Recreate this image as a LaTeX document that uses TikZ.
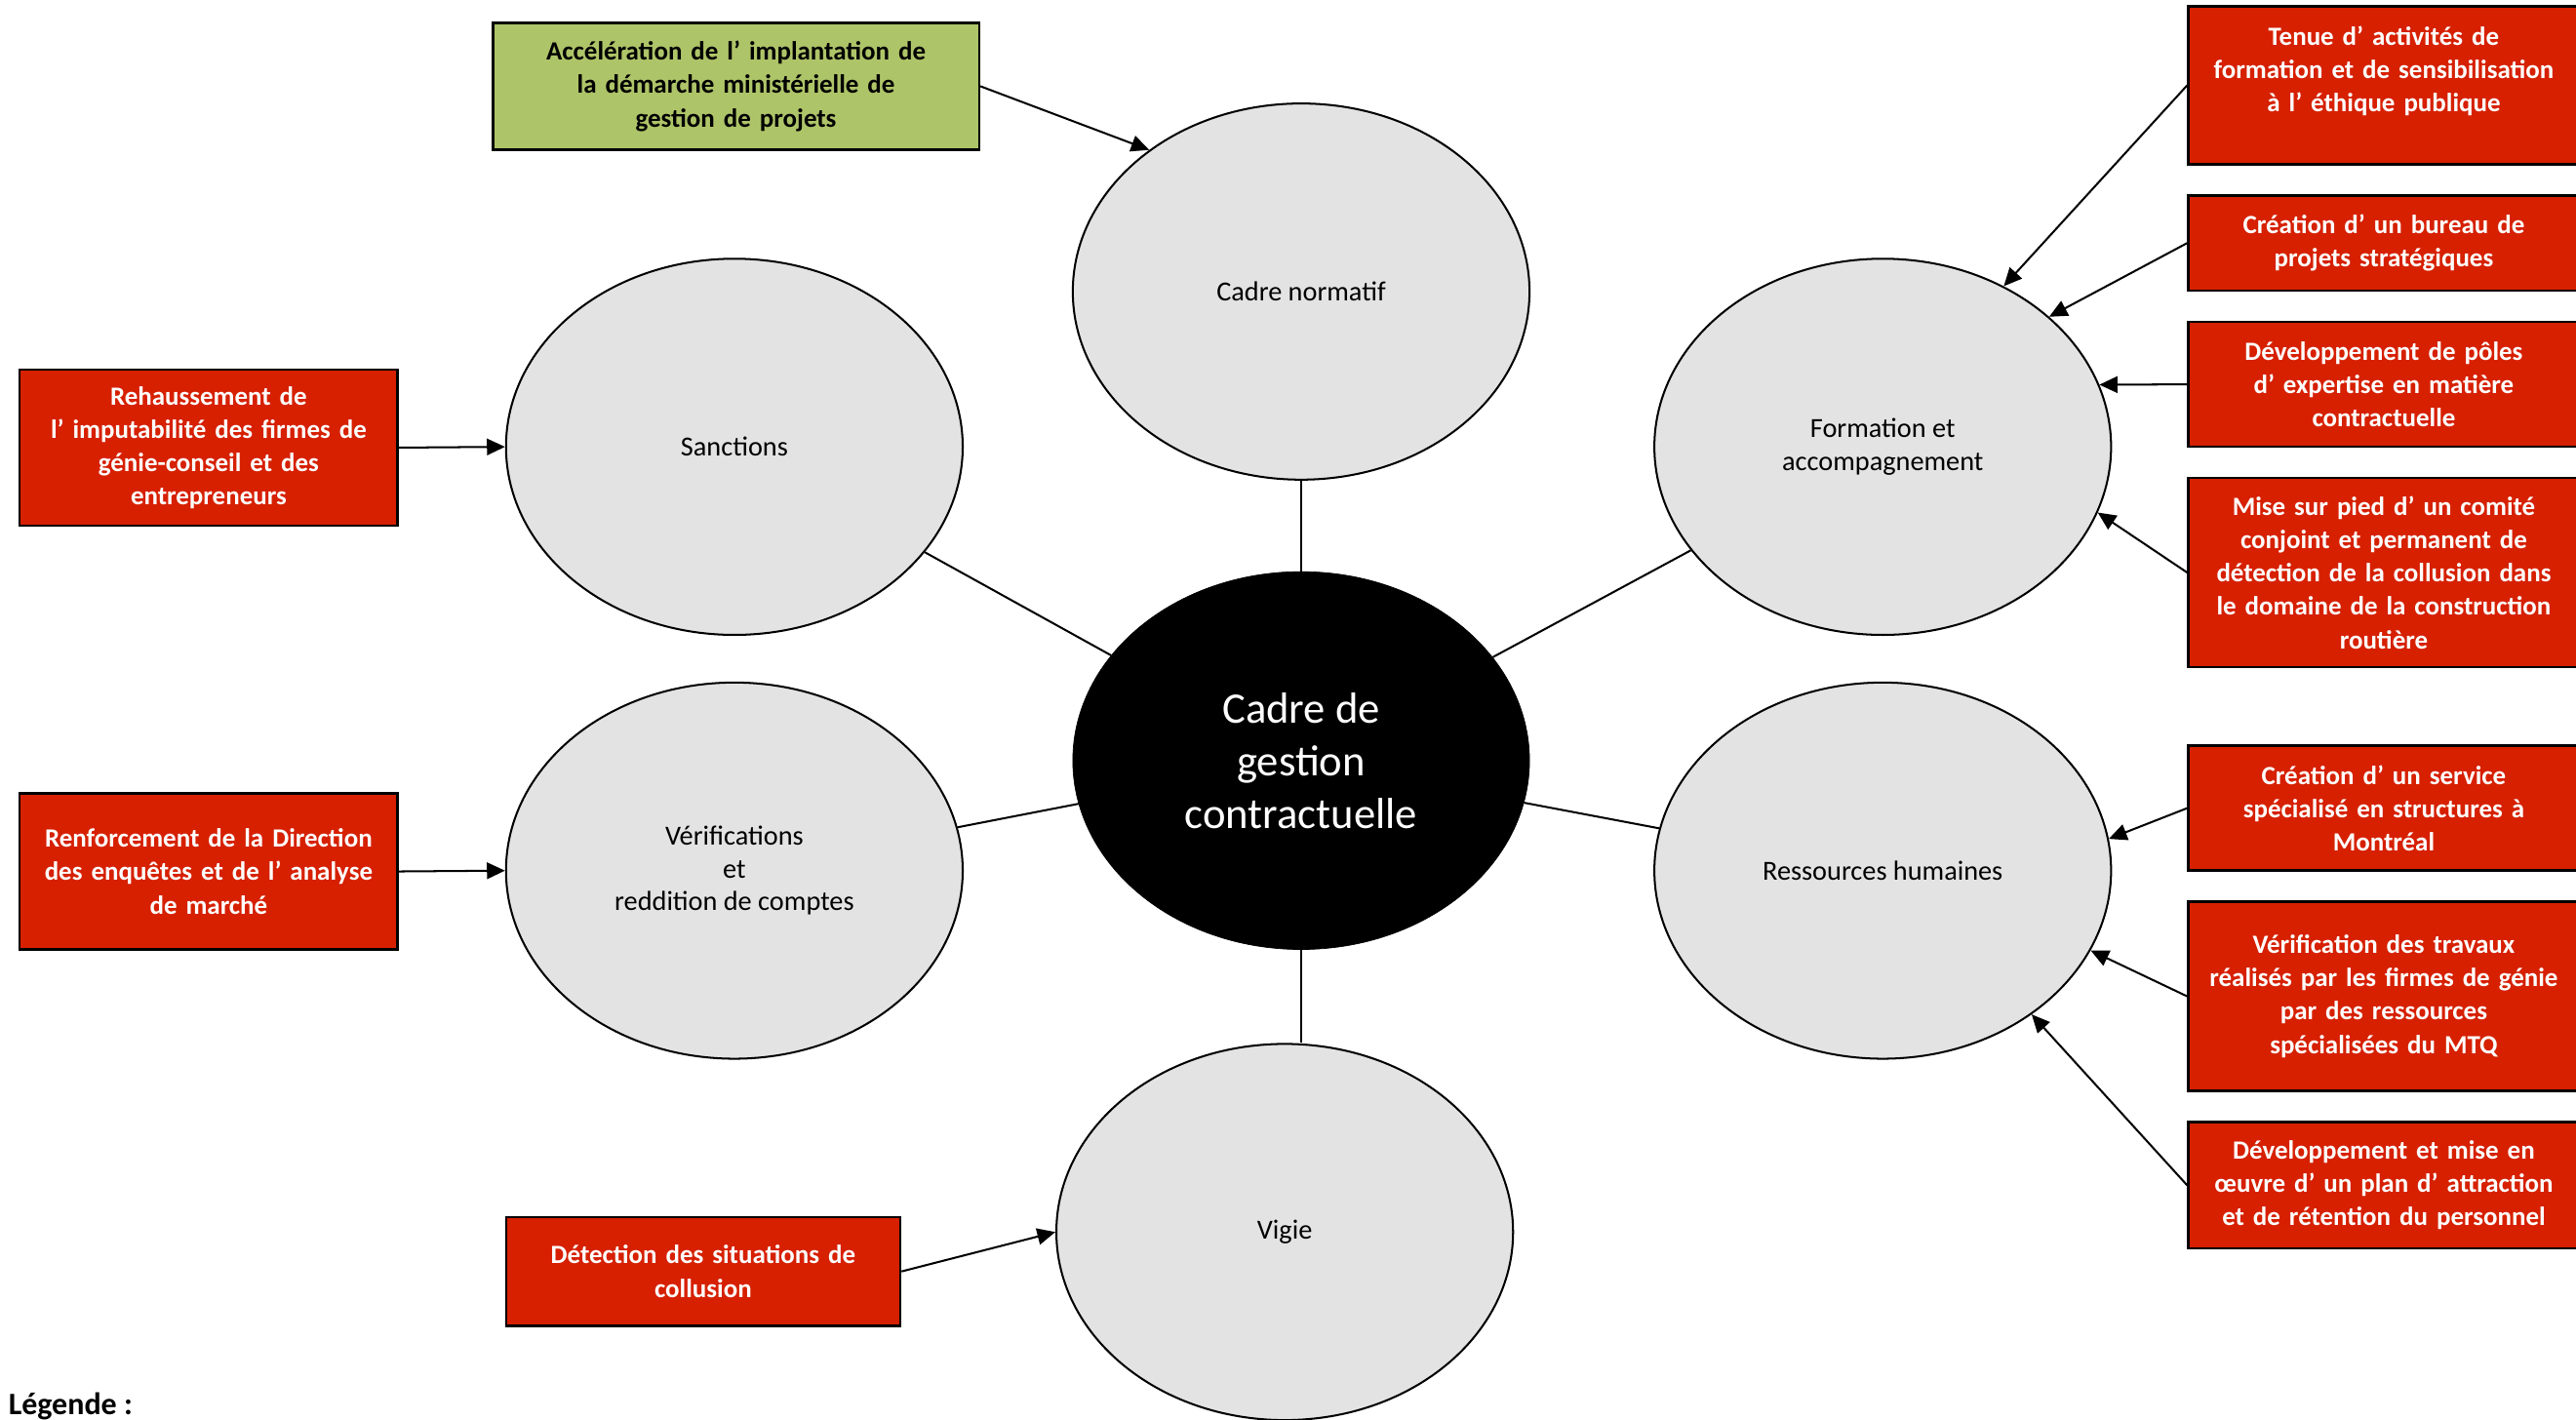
\documentclass[tikz,border=0pt]{standalone}
\usepackage{fontspec}
\setmainfont{Carlito}
\usetikzlibrary{shapes.geometric,arrows.meta}
\definecolor{boxred}{RGB}{214,32,0}
\definecolor{boxgreen}{RGB}{174,196,104}
\definecolor{ovalgray}{RGB}{227,227,227}
\begin{document}
\begin{tikzpicture}[x=1pt,y=-1pt,
 oval/.style={ellipse,draw=black,line width=1.2pt,fill=ovalgray,minimum width=278pt,minimum height=229pt,inner sep=0pt,align=center,font=\fontsize{16.8}{20}\selectfont},
 core/.style={ellipse,fill=black,draw=black,minimum width=278pt,minimum height=230pt,inner sep=0pt,align=center,text=white,font=\fontsize{26.5}{32}\selectfont},
 action/.style={rectangle,draw=black,line width=1.5pt,fill=boxred,text=white,align=center,inner sep=0pt,font=\bfseries\fontsize{16}{20.3}\selectfont},
 goal/.style={action,fill=boxgreen,text=black},
 link/.style={line width=1.2pt},
 feed/.style={line width=1.2pt,-{Triangle[length=11pt,width=10pt]}}]
\useasboundingbox[fill=white] (0,0) rectangle (1568,864);

% ellipses
\node[core] (core) at (792,463) {Cadre de\\gestion\\contractuelle};
\node[oval] (norm) at (792,177.5) {Cadre normatif};
\node[oval] (sanc) at (447,272) {Sanctions};
\node[oval] (form) at (1146,272) {Formation et\\accompagnement};
\node[oval] (verif) at (447,530) {Vérifications\\et\\reddition de comptes};
\node[oval] (rh) at (1146,530) {Ressources humaines};
\node[oval] (vig) at (782,750) {Vigie};

% boxes
\node[goal,text width=284pt,minimum width=296pt,minimum height=77pt] (green) at (448,52.5) {Accélération de l’ implantation de\\la démarche ministérielle de\\gestion de projets};
\node[action,text width=218pt,minimum width=230pt,minimum height=95pt] (rehau) at (127,272.5) {Rehaussement de\\l’ imputabilité des firmes de\\génie-conseil et des\\entrepreneurs};
\node[action,text width=218pt,minimum width=230pt,minimum height=95pt] (renf) at (127,530.5) {Renforcement de la Direction\\des enquêtes et de l’ analyse\\de marché};
\node[action,text width=228pt,minimum width=240pt,minimum height=66pt] (detect) at (428,774) {Détection des situations de\\collusion};

\node[action,text width=226pt,minimum width=238pt,minimum height=96pt] (tenue) at (1451,52) {Tenue d’ activités de\\formation et de sensibilisation\\à l’ éthique publique\\\mbox{}};
\node[action,text width=226pt,minimum width=238pt,minimum height=58pt] (bureau) at (1451,148) {Création d’ un bureau de\\projets stratégiques};
\node[action,text width=226pt,minimum width=238pt,minimum height=76pt] (poles) at (1451,234) {Développement de pôles\\d’ expertise en matière\\contractuelle};
\node[action,text width=226pt,minimum width=238pt,minimum height=115pt] (comite) at (1451,348.5) {Mise sur pied d’ un comité\\conjoint et permanent de\\détection de la collusion dans\\le domaine de la construction\\routière};
\node[action,text width=226pt,minimum width=238pt,minimum height=76pt] (service) at (1451,492) {Création d’ un service\\spécialisé en structures à\\Montréal};
\node[action,text width=226pt,minimum width=238pt,minimum height=115pt] (verifmtq) at (1451,606.5) {Vérification des travaux\\réalisés par les firmes de génie\\par des ressources\\spécialisées du MTQ};
\node[action,text width=226pt,minimum width=238pt,minimum height=77pt] (plan) at (1451,721.5) {Développement et mise en\\œuvre d’ un plan d’ attraction\\et de rétention du personnel};

\node[anchor=base west,inner sep=0pt,font=\bfseries\fontsize{19}{22}\selectfont] (legend) at (5,861) {Légende :};

% links from the core
\draw[link] (core.north) -- (norm.south);
\draw[link] (core.south) -- (core.south |- vig.north);
\draw[link] (core) -- (sanc);
\draw[link] (core) -- (form);
\draw[link] (core) -- (verif);
\draw[link] (core) -- (rh);

% arrows
\draw[feed] (green.east) -- (norm.137);
\draw[feed] (rehau.east) -- (sanc.west);
\draw[feed] (renf.east) -- (verif.west);
\draw[feed] (detect.east) -- (vig.west);
\draw[feed] (tenue.west) -- (form.53);
\draw[feed] (bureau.west) -- (form.38);
\draw[feed] (poles.west) -- (form.16);
\draw[feed] (comite.west) -- (form.-17);
\draw[feed] (service.west) -- (rh.8);
\draw[feed] (verifmtq.west) -- (rh.-21);
\draw[feed] (plan.west) -- (rh.-44);
\end{tikzpicture}
\end{document}
